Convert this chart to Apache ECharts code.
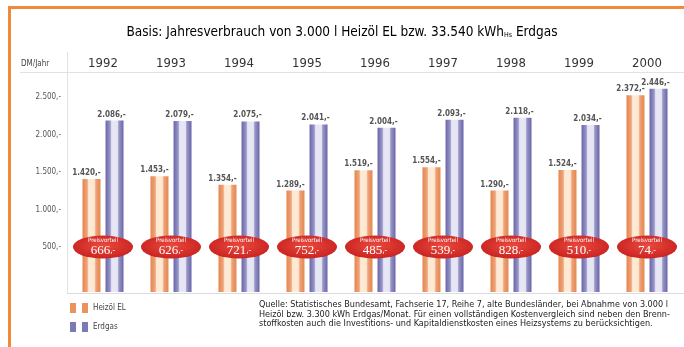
<!DOCTYPE html>
<html>
<head>
<meta charset="utf-8">
<script src="https://cdn.jsdelivr.net/npm/echarts@6/dist/echarts.min.js"></script>
<style>html,body{margin:0;padding:0;background:#fff;}#c{width:684px;height:347px;}</style>
</head>
<body>
<div id="c"></div>
<script>
const years = ['1992','1993','1994','1995','1996','1997','1998','1999','2000'];
const heizoel = [1420,1453,1354,1289,1519,1554,1290,1524,2372];
const erdgas = [2086,2079,2075,2041,2004,2093,2118,2034,2446];
const vorteil = [666,626,721,752,485,539,828,510,74];
const tickValues = [500,1000,1500,2000,2500];

const FONT = '"Liberation Sans Narrow","DejaVu Sans Condensed","Liberation Sans",sans-serif';
function fmt(v){
  const s = v >= 1000 ? Math.floor(v/1000) + '.' + String(v % 1000).padStart(3,'0') : String(v);
  return s + ',-';
}
const G = echarts.graphic;
function stripes(dark, mid, light){
  return new G.LinearGradient(0,0,1,0,[
    {offset:0,color:dark},{offset:0.26,color:mid},{offset:0.34,color:light},
    {offset:0.66,color:light},{offset:0.74,color:mid},{offset:1,color:dark}]);
}
const orangeFill = stripes('#e5864f','#eea47a','#fde9d4');
const blueFill = stripes('#6a66a8','#9896c8','#e6e6f4');

const chart = echarts.init(document.getElementById('c'), null, {renderer:'canvas'});
chart.setOption({
  backgroundColor:'#fff',
  animation:false,
  grid:{left:69,right:3,top:82,bottom:55},
  xAxis:{
    type:'category', data:years, position:'top',
    axisLine:{show:false}, axisTick:{show:false},
    axisLabel:{fontFamily:FONT, fontSize:13, color:'#333', margin:12}
  },
  yAxis:[
    {type:'value', min:-100, max:2700, interval:100,
     splitLine:{show:false}, axisLine:{show:false}, axisTick:{show:false},
     axisLabel:{fontFamily:FONT, fontSize:8, color:'#555', margin:8,
       formatter:v => tickValues.includes(v) ? fmt(v) : ''}},
    {type:'value', min:136, max:2523, show:false}
  ],
  legend:{
    orient:'vertical', left:65, top:298, itemGap:9, itemWidth:18, itemHeight:10,
    icon:'path://M0,0h6v10h-6z M12,0h6v10h-6z',
    textStyle:{fontFamily:FONT, fontSize:8, color:'#444'},
    data:[{name:'Heizöl EL', itemStyle:{color:'#e9935f'}},{name:'Erdgas', itemStyle:{color:'#7a7ab5'}}]
  },
  series:[
    {name:'Heizöl EL', type:'bar', yAxisIndex:1, data:heizoel, barWidth:18, barGap:'28%',
     itemStyle:{color:orangeFill}, z:2,
     label:{show:true, position:'top', distance:2, offset:[-5,0], fontFamily:FONT, fontSize:8, fontWeight:'bold', color:'#555',
       formatter:p => fmt(p.value)}},
    {name:'Erdgas', type:'bar', yAxisIndex:1, data:erdgas, barWidth:18,
     itemStyle:{color:blueFill}, z:2,
     label:{show:true, position:'top', distance:2, offset:[-3,0], fontFamily:FONT, fontSize:8, fontWeight:'bold', color:'#555',
       formatter:p => fmt(p.value)}},
    {name:'Preisvorteil', type:'scatter', yAxisIndex:0, symbol:'circle', symbolSize:[60,23], z:5,
     data: years.map(y => [y, 500]),
     itemStyle:{color:new G.RadialGradient(0.5,0.45,0.6,[{offset:0,color:'#ea4a3e'},{offset:1,color:'#c7201f'}]), opacity:1},
     label:{show:true, position:'inside', fontFamily:FONT,
       formatter:p => '{a|Preisvorteil}\n{b|' + vorteil[p.dataIndex] + '}{c|,-}',
       rich:{a:{fontSize:6, color:'#fff', lineHeight:8, align:'center'},
             b:{fontSize:13, color:'#fff', lineHeight:13, fontFamily:'"Liberation Serif",serif'},
             c:{fontSize:8, color:'#fff', lineHeight:13}}}}
  ],
  graphic:[
    {type:'rect', shape:{x:8,y:6,width:676,height:3}, style:{fill:'#f08a3a'}, silent:true},
    {type:'rect', shape:{x:8,y:6,width:3,height:341}, style:{fill:'#f08a3a'}, silent:true},
    {type:'line', shape:{x1:20,y1:72.5,x2:684,y2:72.5}, style:{stroke:'#e2e2e2',lineWidth:1}, silent:true},
    {type:'line', shape:{x1:67.5,y1:52,x2:67.5,y2:293}, style:{stroke:'#e2e2e2',lineWidth:1}, silent:true},
    {type:'line', shape:{x1:67,y1:293.5,x2:684,y2:293.5}, style:{stroke:'#dcdcdc',lineWidth:1}, silent:true},
    {type:'text', left:21, top:60, style:{text:'DM/Jahr', font:'8px '+FONT, fill:'#444'}},
    {type:'text', left:'center', top:25, style:{
      text:'{t|Basis: Jahresverbrauch von 3.000 l Heizöl EL bzw. 33.540 kWh}{s|Hs}{t| Erdgas}',
      rich:{t:{fontFamily:FONT, fontSize:13.5, color:'#333'}, s:{fontFamily:FONT, fontSize:7, color:'#333', padding:[7,0,0,0]}}}},
    {type:'text', left:259, top:300, style:{
      text:'Quelle: Statistisches Bundesamt, Fachserie 17, Reihe 7, alte Bundesländer, bei Abnahme von 3.000 l\nHeizöl bzw. 3.300 kWh Erdgas/Monat. Für einen vollständigen Kostenvergleich sind neben den Brenn-\nstoffkosten auch die Investitions- und Kapitaldienstkosten eines Heizsystems zu berücksichtigen.',
      font:'9px '+FONT, fill:'#222', lineHeight:9.5}}
  ]
});
</script>
</body>
</html>
